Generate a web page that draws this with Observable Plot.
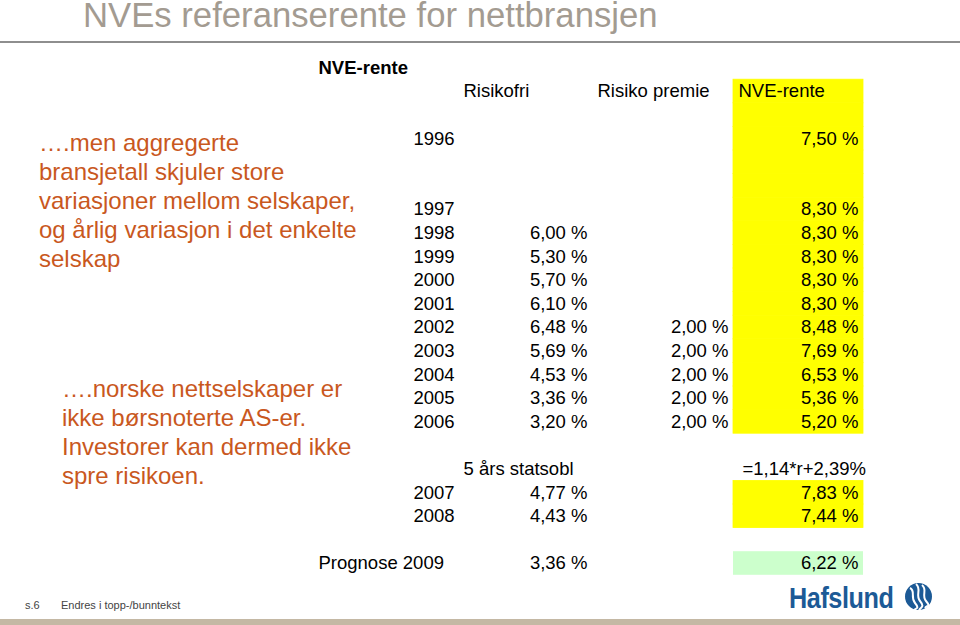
<!DOCTYPE html>
<html>
<head>
<meta charset="utf-8">
<script src="https://cdn.jsdelivr.net/npm/d3@7"></script>
<script src="https://cdn.jsdelivr.net/npm/@observablehq/plot@0.6"></script>
<style>
  html, body { margin: 0; padding: 0; background: #fff; overflow: hidden; }
  #page { position: relative; width: 960px; height: 625px; overflow: hidden; font-family: "Liberation Sans", Arial, sans-serif; }
  #chart { position: absolute; left: 0; top: 0; }
  .abs { position: absolute; white-space: nowrap; }
  .title { left: 83px; top: 5px; font-size: 34.7px; line-height: 20px; color: #a39b91; }
  .rule { left: 0; top: 41px; width: 960px; height: 2px; background: #8e8e8e; }
  .note { font-size: 24px; line-height: 29px; color: #c9581e; }
  .foot { font-size: 11px; line-height: 11px; color: #444; top: 600px; }
  .logo { left: 789px; top: 584px; font-family: "Liberation Sans", Arial, sans-serif; font-weight: bold; font-size: 29px; line-height: 29px; color: #1c5a96; transform: scaleX(0.87); transform-origin: 0 0; letter-spacing: -0.5px; }
  .bar { left: 0; top: 619px; width: 960px; height: 6px; background: #c4b8a4; }
</style>
</head>
<body>
<div id="page">
  <div id="chart"></div>
  <div class="abs title">NVEs referanserente for nettbransjen</div>
  <div class="abs rule"></div>
  <div class="abs note" style="left:39px; top:128px;">….men aggregerte<br>bransjetall skjuler store<br>variasjoner mellom selskaper,<br>og årlig variasjon i det enkelte<br>selskap</div>
  <div class="abs note" style="left:62px; top:374px;">….norske nettselskaper er<br>ikke børsnoterte AS-er.<br>Investorer kan dermed ikke<br>spre risikoen.</div>
  <div class="abs foot" style="left:25px;">s.6</div>
  <div class="abs foot" style="left:61px;">Endres i topp-/bunntekst</div>
  <div class="abs logo">Hafslund</div>
  <svg class="abs" style="left:904px; top:582px;" width="29" height="29" viewBox="0 0 29 29">
    <circle cx="14.5" cy="14.5" r="13.5" fill="#1c5a96"/>
    <path d="M6 6 C 12 9, 6 15, 11 21 S 12 26, 10 28" stroke="#fff" stroke-width="2" fill="none"/>
    <path d="M12 2 C 18 7, 11 13, 16 19 S 17 25, 15 28" stroke="#fff" stroke-width="2" fill="none"/>
    <path d="M18 3 C 24 8, 17 13, 22 19 S 23 23, 21 26" stroke="#fff" stroke-width="2" fill="none"/>
  </svg>
  <div class="abs bar"></div>
</div>
<script>
// ---- data ----
const tableTitle = "NVE-rente";
const headers = ["Risikofri", "Risiko premie", "NVE-rente"];
const years = ["1996", "1997", "1998", "1999", "2000", "2001", "2002", "2003", "2004", "2005", "2006"];
const risikofri = [null, null, 6.00, 5.30, 5.70, 6.10, 6.48, 5.69, 4.53, 3.36, 3.20];
const risikoPremie = [null, null, null, null, null, null, 2.00, 2.00, 2.00, 2.00, 2.00];
const nveRente = [7.50, 8.30, 8.30, 8.30, 8.30, 8.30, 8.48, 7.69, 6.53, 5.36, 5.20];
const formulaLabel = "5 års statsobl";
const formulaText = "=1,14*r+2,39%";
const forecastYears = ["2007", "2008"];
const statsobl = [4.77, 4.43];
const forecastNve = [7.83, 7.44];
const prognoseLabel = "Prognose 2009";
const prognoseRisikofri = 3.36;
const prognoseNve = 6.22;

// ---- layout (row order & column slots) ----
const rowKeys = ["title", "header", "gapA", "1996", "gapB", "gapC",
  "1997", "1998", "1999", "2000", "2001", "2002", "2003", "2004", "2005", "2006",
  "gapD", "formula", "2007", "2008", "gapE", "prognose"];
const col = {label: 0, year: 1, risikofri: 2, premie: 3, nve: 4};
const colEdges = [313, 408, 458, 592, 733, 863, 990];
const edge = i => colEdges[i];

const fmt = v => v.toFixed(2).replace(".", ",") + " %";

const mainRows = years.map((year, i) => ({row: year, year, risikofri: risikofri[i], premie: risikoPremie[i], nve: nveRente[i]}));
const forecastRows = forecastYears.map((year, i) => ({row: year, year, risikofri: statsobl[i], premie: null, nve: forecastNve[i]}));
const prognoseRows = [{row: "prognose", label: prognoseLabel, risikofri: prognoseRisikofri, premie: null, nve: prognoseNve}];
const valueRows = [...mainRows, ...forecastRows, ...prognoseRows];
const yearRows = [...mainRows, ...forecastRows];
const headerCells = headers.map((h, i) => ({row: "header", text: h, c: [col.risikofri, col.premie, col.nve][i]}));

const yellowRows = [...rowKeys.slice(rowKeys.indexOf("header"), rowKeys.indexOf(years[years.length - 1]) + 1), ...forecastYears];

const font = 18.5;
const chart = Plot.plot({
  width: 960,
  height: 625,
  margin: 0,
  style: {background: "transparent", fontFamily: "'Liberation Sans', Arial, sans-serif", color: "#000"},
  x: {type: "linear", domain: [0, 960], range: [0, 960], axis: null},
  y: {type: "band", domain: rowKeys, range: [55.6, 574.8], padding: 0, round: false, axis: null},
  marks: [
    Plot.barX(yellowRows, {y: d => d, x1: () => edge(col.nve), x2: () => edge(col.nve + 1), fill: "#ffff00", stroke: "#ffff00", strokeWidth: 0.8, insetTop: 0, insetBottom: 0}),
    Plot.barX(prognoseRows, {y: "row", x1: () => edge(col.nve), x2: () => edge(col.nve + 1), fill: "#ccffcc", insetTop: 0, insetBottom: 0}),
    Plot.text([tableTitle], {y: () => "title", x: () => edge(col.label), text: d => d, textAnchor: "start", dx: 5, fontSize: font, fontWeight: "bold"}),
    Plot.text(headerCells, {y: "row", x: d => edge(d.c), text: "text", textAnchor: "start", dx: 5, fontSize: font}),
    Plot.text(yearRows, {y: "row", x: () => edge(col.year), text: "year", textAnchor: "start", dx: 5, fontSize: font}),
    Plot.text(prognoseRows, {y: "row", x: () => edge(col.label), text: "label", textAnchor: "start", dx: 5, fontSize: font}),
    Plot.text(valueRows.filter(d => d.risikofri != null), {y: "row", x: () => edge(col.risikofri + 1), text: d => fmt(d.risikofri), textAnchor: "end", dx: -5, fontSize: font}),
    Plot.text(valueRows.filter(d => d.premie != null), {y: "row", x: () => edge(col.premie + 1), text: d => fmt(d.premie), textAnchor: "end", dx: -5, fontSize: font}),
    Plot.text(valueRows.filter(d => d.nve != null), {y: "row", x: () => edge(col.nve + 1), text: d => fmt(d.nve), textAnchor: "end", dx: -5, fontSize: font}),
    Plot.text([formulaLabel], {y: () => "formula", x: () => edge(col.risikofri), text: d => d, textAnchor: "start", dx: 5, fontSize: font}),
    Plot.text([formulaText], {y: () => "formula", x: () => edge(col.nve), text: d => d, textAnchor: "start", dx: 9, fontSize: font}),
    Plot.barX([formulaText], {y: () => "formula", x1: () => edge(col.nve + 1), x2: () => edge(col.nve + 2), fill: "#fff", dx: 3})
  ]
});
document.getElementById("chart").appendChild(chart);
</script>
</body>
</html>
